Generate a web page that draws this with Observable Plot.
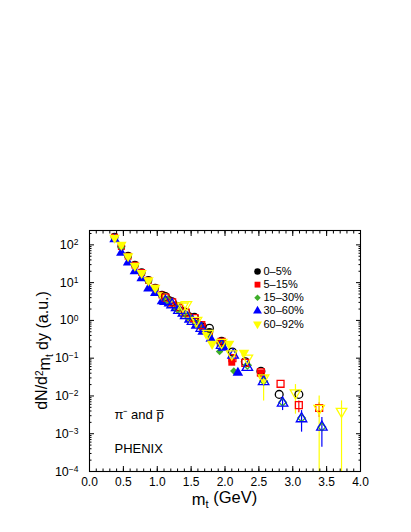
<!DOCTYPE html>
<html><head><meta charset="utf-8">
<script src="https://cdn.jsdelivr.net/npm/d3@7"></script>
<script src="https://cdn.jsdelivr.net/npm/@observablehq/plot@0.6"></script>
<style>
html,body{margin:0;padding:0;background:#fff;}
#chart svg{display:block;}
</style></head><body><div id="chart"></div>
<script>
// ---- data ----
const centralities = ["0–5%", "5–15%", "15–30%", "30–60%", "60–92%"];
const seriesColors = ["#000000", "#ff0000", "#3fae2a", "#0000ff", "#ffff00"];
const seriesSymbols = ["circle", "square", "diamond2", "triangle", "triangle"];
const seriesRotate = [0, 0, 0, 0, 180];

// pi- (filled markers): [mt GeV, dN/d2mt dy]
const pi_00_05 = [[0.37,165],[0.47,92],[0.57,52],[0.67,30],[0.77,19],[0.87,11.8],[0.97,7.4],[1.07,4.8],[1.17,3.5],[1.27,2.5],[1.37,1.8],[1.47,1.3],[1.57,0.95],[1.67,0.7],[1.77,0.5],[1.93,0.27]];
const pi_05_15 = [[0.37,160],[0.47,90],[0.57,50],[0.67,29],[0.77,18.5],[0.87,11.5],[0.97,7.2],[1.07,4.7],[1.17,3.4],[1.27,2.45],[1.37,1.75],[1.47,1.25],[1.57,0.92],[1.67,0.66],[1.77,0.45],[1.93,0.25],[2.10,0.078],[2.53,0.04]];
const pi_15_30 = [[0.37,150],[0.47,85],[0.57,47],[0.67,27],[0.77,17],[0.87,10.5],[0.97,6.6],[1.07,4.3],[1.17,3.1],[1.27,2.25],[1.37,1.6],[1.47,1.15],[1.57,0.82],[1.67,0.58],[1.77,0.4],[1.92,0.15],[2.13,0.046]];
const pi_30_60 = [[0.37,140],[0.47,62],[0.57,34],[0.67,20],[0.77,13],[0.87,7.0],[0.97,5.3],[1.07,3.2],[1.17,2.8],[1.27,2.1],[1.37,1.5],[1.47,1.05],[1.57,0.72],[1.67,0.5],[1.79,0.33],[1.97,0.19],[2.19,0.041]];
const pi_60_92 = [[0.37,155],[0.47,100],[0.57,50],[0.67,28],[0.77,18],[0.87,11.5],[0.97,7.3],[1.07,4.6],[1.17,3.2],[1.29,2.2],[1.37,1.65],[1.47,1.2],[1.57,0.9],[1.72,0.45],[1.81,0.24],[2.06,0.24],[2.28,0.14],[2.55,0.03]];

// anti-protons (open markers): [mt GeV, dN/d2mt dy]
const pbar_00_05 = [[1.12,4.3],[1.22,3.1],[1.32,2.3],[1.42,1.65],[1.55,1.2],[1.77,0.62],[1.95,0.28],[2.11,0.145],[2.30,0.08],[2.53,0.045],[2.80,0.011],[3.09,0.011]];
const pbar_05_15 = [[1.12,4.0],[1.22,3.0],[1.32,2.2],[1.42,1.6],[1.55,1.15],[1.65,0.75],[1.95,0.27],[2.11,0.1],[2.30,0.075],[2.53,0.042],[2.82,0.021],[3.09,0.0057],[3.39,0.0048]];
const pbar_15_30 = [[1.15,3.5],[1.30,2.0],[1.45,1.3],[1.60,0.8],[1.95,0.23],[2.33,0.065],[2.57,0.025],[2.85,0.0068],[3.13,0.0026],[3.43,0.0015]];
const pbar_30_60 = [[1.12,3.2],[1.22,2.6],[1.32,1.85],[1.42,1.35],[1.52,0.95],[1.65,0.62],[1.95,0.22],[2.12,0.12],[2.33,0.057],[2.57,0.024],[2.85,0.0065],[3.13,0.0025],[3.43,0.0015]];
const pbar_60_92 = [[1.38,2.4],[1.43,2.6],[1.58,1.0],[1.75,0.45],[1.95,0.26],[2.10,0.13],[2.33,0.1],[2.57,0.03],[3.04,0.012],[3.39,0.0047],[3.72,0.0039]];

// error bars: [mt, low, high]
const err_05_15 = [[3.09,0.0036,0.0074],[3.39,0.0027,0.0066]];
const err_30_60 = [[2.57,0.018,0.032],[2.85,0.0041,0.0091],[3.13,0.0011,0.0041],[3.43,0.00044,0.0027]];
const err_60_92 = [[2.57,0.0074,0.031],[3.04,0.0033,0.02],[3.39,0.0001,0.01],[3.72,0.0001,0.0074]];

// axis ticks
const xMajorTicks = [0,0.5,1,1.5,2,2.5,3,3.5,4];
const xMinorTicks = d3.range(0, 41).map(i => i / 10);
const yMajorTicks = [1e-4,1e-3,1e-2,1e-1,1,10,100];
const yMinorTicks = d3.range(-4, 3).flatMap(e => [2,3,4,5,6,7,8,9].map(m => m * Math.pow(10, e))).filter(v => v < 240);

const piSets = [pi_00_05, pi_05_15, pi_15_30, pi_30_60, pi_60_92];
const pbarSets = [pbar_00_05, pbar_05_15, pbar_15_30, pbar_30_60, pbar_60_92];
const errSets = [[], err_05_15, [], err_30_60, err_60_92];

const toRows = arr => arr.map(([mt, v]) => ({mt, v}));
const toErr = arr => arr.map(([mt, lo, hi]) => ({mt, lo, hi}));

const FONT = "'Liberation Sans', Arial, Helvetica, sans-serif";
const fmtExp = d => "10^" + Math.round(Math.log10(d));

const marks = [];
// error bars
errSets.forEach((e, i) => {
  if (e.length) marks.push(Plot.ruleX(toErr(e), {x: "mt", y1: "lo", y2: "hi", stroke: seriesColors[i], strokeWidth: 1.2, clip: true}));
});
// pions (filled)
piSets.forEach((s, i) => {
  marks.push(Plot.dot(toRows(s), {x: "mt", y: "v", symbol: seriesSymbols[i], fill: seriesColors[i], stroke: "none", r: i === 2 ? 3.4 : 3.9, rotate: seriesRotate[i]}));
});
// antiprotons (open)
pbarSets.forEach((s, i) => {
  marks.push(Plot.dot(toRows(s), {x: "mt", y: "v", symbol: seriesSymbols[i], fill: "none", stroke: seriesColors[i], strokeWidth: 1.3, r: i === 2 ? 3.4 : 3.9, rotate: seriesRotate[i]}));
});
// axes: ticks inside, on all four sides
marks.push(
  Plot.axisX(xMajorTicks, {anchor: "bottom", tickSize: 0, tickPadding: 6, tickFormat: d => d.toFixed(1), fontSize: 12, label: null}),
  Plot.axisX(xMajorTicks, {anchor: "bottom", tickSize: -5, tickFormat: () => "", label: null}),
  Plot.axisX(xMinorTicks, {anchor: "bottom", tickSize: -2.5, tickFormat: () => "", label: null}),
  Plot.axisX(xMajorTicks, {anchor: "top", tickSize: -5, tickFormat: () => "", label: null}),
  Plot.axisX(xMinorTicks, {anchor: "top", tickSize: -2.5, tickFormat: () => "", label: null}),
  Plot.axisY(yMajorTicks, {anchor: "left", tickSize: 0, tickPadding: 11, tickFormat: fmtExp, fontSize: 12.5, label: null}),
  Plot.axisY(yMajorTicks, {anchor: "left", tickSize: -5, tickFormat: () => "", label: null}),
  Plot.axisY(yMinorTicks, {anchor: "left", tickSize: -2.5, tickFormat: () => "", label: null}),
  Plot.axisY(yMajorTicks, {anchor: "right", tickSize: -5, tickFormat: () => "", label: null}),
  Plot.axisY(yMinorTicks, {anchor: "right", tickSize: -2.5, tickFormat: () => "", label: null}),
  Plot.frame({stroke: "#000", strokeWidth: 1.1})
);
// legend
centralities.forEach((c, i) => {
  marks.push(Plot.dot([c], {frameAnchor: "top-left", dx: 168, dy: 41 + i * 13.15, symbol: seriesSymbols[i], fill: seriesColors[i], r: i === 2 ? 2.9 : 3.3, rotate: seriesRotate[i]}));
  marks.push(Plot.text([c], {frameAnchor: "top-left", dx: 174, dy: 41 + i * 13.15, text: d => d, textAnchor: "start", lineAnchor: "middle", fontSize: 11, fill: "#000"}));
});
// annotations
marks.push(
  Plot.text(["π⁻ and p̅"], {frameAnchor: "bottom-left", dx: 25, dy: -57, text: d => d, textAnchor: "start", lineAnchor: "middle", fontSize: 13, fill: "#000"}),
  Plot.text(["PHENIX"], {frameAnchor: "bottom-left", dx: 25, dy: -23, text: d => d, textAnchor: "start", lineAnchor: "middle", fontSize: 13, fill: "#000"})
);

const chart = Plot.plot({
  width: 411, height: 532,
  marginLeft: 89, marginRight: 51, marginTop: 230, marginBottom: 61,
  style: {fontFamily: FONT, background: "#fff", color: "#000", fontSize: "12px"},
  x: {domain: [0, 4]},
  y: {type: "log", domain: [1e-4, 240]},
  marks
});
document.getElementById("chart").appendChild(chart);

// superscript exponents on y tick labels
const svg = d3.select(chart);
svg.selectAll("text").each(function() {
  const t = d3.select(this);
  const m = /^10\^(-?\d+)$/.exec(t.text());
  if (m) {
    t.text("10");
    t.append("tspan").attr("dy", "-0.45em").attr("font-size", "8.5px").text(m[1].replace("-", "−"));
  }
});

// axis titles
const xr = chart.scale("x").range, yr = chart.scale("y").range;
const xt = svg.append("text").attr("x", (xr[0] + xr[1]) / 2).attr("y", 505)
  .attr("text-anchor", "middle").attr("font-family", FONT).attr("font-size", "16.5px").attr("fill", "#000");
xt.append("tspan").text("m");
xt.append("tspan").attr("dy", "0.3em").attr("font-size", "11px").text("t");
xt.append("tspan").attr("dy", "-0.3em").text(" (GeV)");

const yt = svg.append("text")
  .attr("transform", `translate(47,${(yr[0] + yr[1]) / 2}) rotate(-90)`)
  .attr("text-anchor", "middle").attr("font-family", FONT).attr("font-size", "16px").attr("fill", "#000");
yt.append("tspan").text("dN/d");
yt.append("tspan").attr("dy", "-0.45em").attr("font-size", "10px").text("2");
yt.append("tspan").attr("dy", "0.45em").text("m");
yt.append("tspan").attr("dy", "0.3em").attr("font-size", "10px").text("t");
yt.append("tspan").attr("dy", "-0.3em").text(" dy (a.u.)");
</script></body></html>
